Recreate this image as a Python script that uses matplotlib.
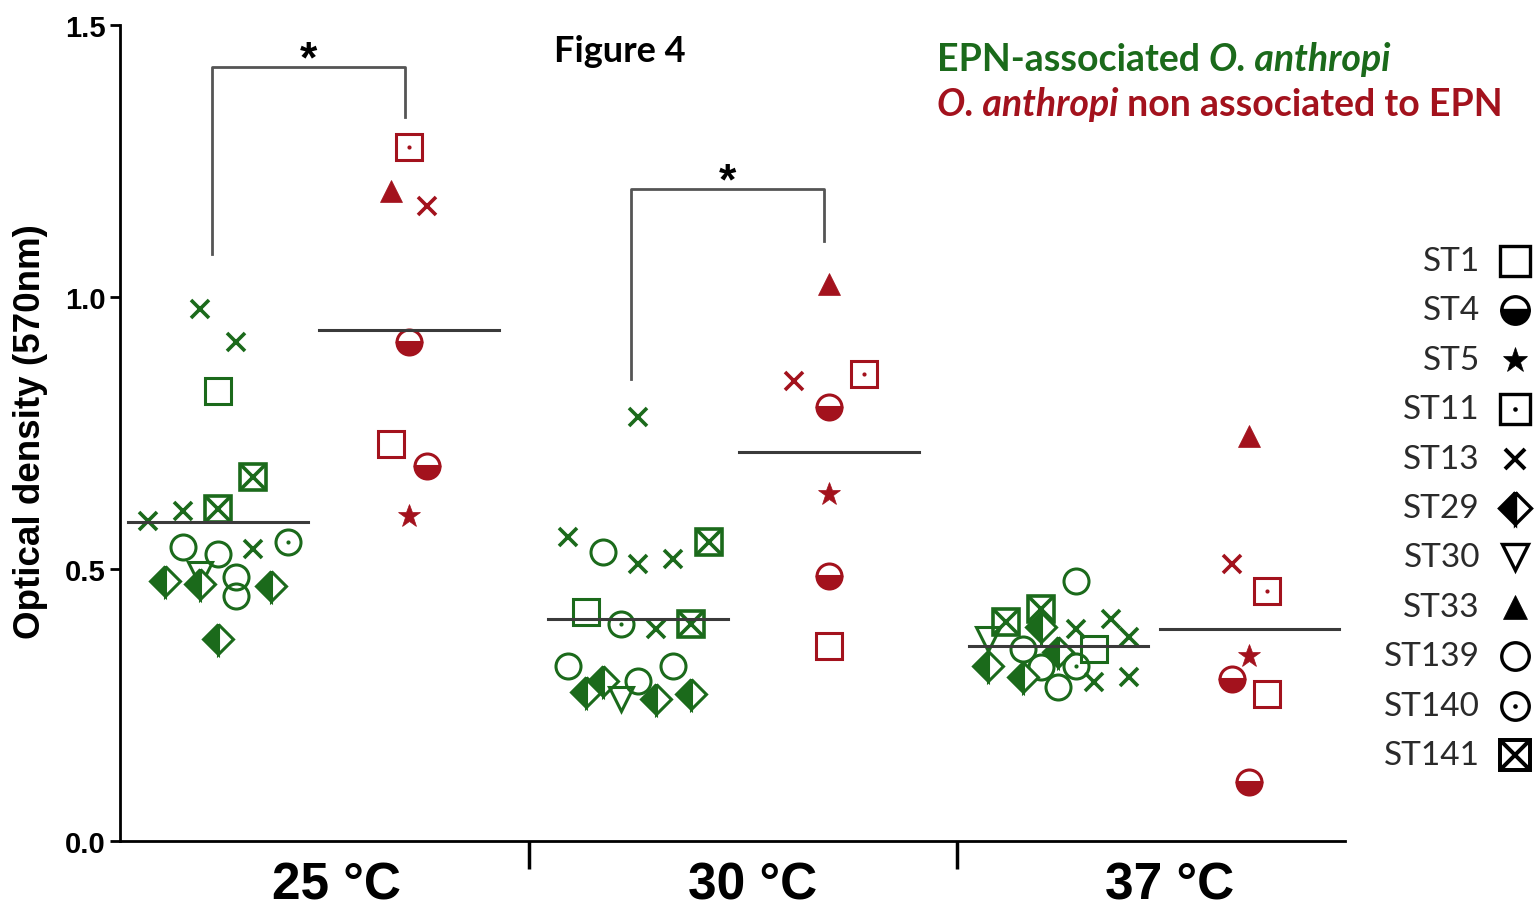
import matplotlib.pyplot as plt
from matplotlib.transforms import blended_transform_factory

green = '#1b6a1b'
red = '#a3121d'

st_names = ['ST1', 'ST4', 'ST5', 'ST11', 'ST13', 'ST29', 'ST30', 'ST33', 'ST139', 'ST140', 'ST141']

# each group: jitter slot, optical density, sequence type
g25_slot = [-1, 1, 0, 2, 0, -2, -4, -2, 0, 2, 4, -3, -1, -1, 1, 1, 3, 0]
g25_od = [0.978, 0.917, 0.827, 0.669, 0.610, 0.607, 0.588, 0.540, 0.528, 0.537, 0.550,
          0.478, 0.490, 0.472, 0.485, 0.450, 0.469, 0.371]
g25_st = ['ST13', 'ST13', 'ST1', 'ST141', 'ST141', 'ST13', 'ST13', 'ST139', 'ST139', 'ST13', 'ST140',
          'ST29', 'ST30', 'ST29', 'ST139', 'ST139', 'ST29', 'ST29']

r25_slot = [0, -1, 1, 0, -1, 1, 0]
r25_od = [1.276, 1.195, 1.167, 0.917, 0.730, 0.689, 0.597]
r25_st = ['ST11', 'ST33', 'ST13', 'ST4', 'ST1', 'ST4', 'ST5']

g30_slot = [0, -4, -2, 0, 2, 4, -3, -1, 1, 3, -4, 2, 0, -3, -2, -1, 1, 3]
g30_od = [0.779, 0.559, 0.531, 0.509, 0.518, 0.550, 0.421, 0.399, 0.390, 0.399, 0.322, 0.322,
          0.294, 0.274, 0.294, 0.261, 0.261, 0.270]
g30_st = ['ST13', 'ST13', 'ST139', 'ST13', 'ST13', 'ST141', 'ST1', 'ST140', 'ST13', 'ST141', 'ST139',
          'ST139', 'ST139', 'ST29', 'ST29', 'ST30', 'ST29', 'ST29']

r30_slot = [0, -2, 2, 0, 0, 0, 0]
r30_od = [1.024, 0.846, 0.858, 0.798, 0.638, 0.487, 0.358]
r30_st = ['ST33', 'ST13', 'ST11', 'ST4', 'ST5', 'ST4', 'ST1']

g37_slot = [1, -3, -1, -1, 1, 3, 4, -4, -2, 0, 2, -4, -1, 1, -2, 2, 4, 0]
g37_od = [0.478, 0.403, 0.426, 0.393, 0.390, 0.408, 0.375, 0.371, 0.353, 0.347, 0.353, 0.322,
          0.320, 0.322, 0.301, 0.292, 0.301, 0.283]
g37_st = ['ST139', 'ST141', 'ST141', 'ST29', 'ST13', 'ST13', 'ST13', 'ST30', 'ST139', 'ST29', 'ST1',
          'ST29', 'ST139', 'ST140', 'ST29', 'ST13', 'ST13', 'ST139']

r37_slot = [0, -1, 1, 0, -1, 1, 0]
r37_od = [0.745, 0.509, 0.460, 0.340, 0.298, 0.270, 0.108]
r37_st = ['ST33', 'ST13', 'ST11', 'ST5', 'ST4', 'ST1', 'ST4']

temps = ['25 °C', '30 °C', '37 °C']
group_x = [0, 1, 2.2, 3.2, 4.4, 5.4]
slot_w = 0.092


def put(a, x, y, st, c, k=1.0):
    kw = dict(linestyle='none', color=c, mec=c, zorder=3, clip_on=False)
    if st == 'ST1':
        a.plot(x, y, 's', ms=19 * k, mfc='none', mew=2.2 * k, **kw)
    elif st == 'ST4':
        a.plot(x, y, 'o', ms=18 * k, fillstyle='bottom', mfc=c, markerfacecoloralt='white', mew=2.2 * k, **kw)
    elif st == 'ST5':
        a.plot(x, y, '*', ms=17 * k, mfc=c, mew=0.5, **kw)
    elif st == 'ST11':
        a.plot(x, y, 's', ms=19 * k, mfc='none', mew=2.2 * k, **kw)
        a.plot(x, y, 'o', ms=3 * k, mfc=c, mew=0, **kw)
    elif st == 'ST13':
        a.plot(x, y, 'x', ms=13 * k, mew=2.6 * k, **kw)
    elif st == 'ST29':
        a.plot(x, y, 'D', ms=15 * k, fillstyle='left', mfc=c, markerfacecoloralt='white', mew=2.2 * k, **kw)
    elif st == 'ST30':
        a.plot(x, y, 'v', ms=17 * k, mfc='none', mew=2.2 * k, **kw)
    elif st == 'ST33':
        a.plot(x, y, '^', ms=16 * k, mfc=c, mew=0.5, **kw)
    elif st == 'ST139':
        a.plot(x, y, 'o', ms=18 * k, mfc='none', mew=2.2 * k, **kw)
    elif st == 'ST140':
        a.plot(x, y, 'o', ms=18 * k, mfc='none', mew=2.2 * k, **kw)
        a.plot(x, y, 'o', ms=3 * k, mfc=c, mew=0, **kw)
    elif st == 'ST141':
        a.plot(x, y, 's', ms=19 * k, mfc='none', mew=2.6 * k, **kw)
        a.plot(x, y, 'x', ms=17 * k, mew=2.6 * k, **kw)


fig = plt.figure(figsize=(15.38, 9.12), dpi=100)
ax = fig.add_axes([120 / 1538, 70 / 912, 1225 / 1538, 816 / 912])
ax.set_xlim(-0.513, 5.90)
ax.set_ylim(0, 1.5)

groups = [(g25_slot, g25_od, g25_st, green), (r25_slot, r25_od, r25_st, red),
          (g30_slot, g30_od, g30_st, green), (r30_slot, r30_od, r30_st, red),
          (g37_slot, g37_od, g37_st, green), (r37_slot, r37_od, r37_st, red)]

for gx, (slots, ods, sts, col) in zip(group_x, groups):
    for s, v, st in zip(slots, ods, sts):
        put(ax, gx + s * slot_w, v, st, col)
    m = sum(ods) / len(ods)
    ax.plot([gx - 0.47, gx + 0.47], [m, m], color='#3a3a3a', lw=2.2, zorder=5)

# significance brackets
for x0, x1, yl, ytop, yr in [(-0.03, 0.98, 1.079, 1.423, 1.331), (2.16, 3.17, 0.849, 1.199, 1.103)]:
    ax.plot([x0, x0, x1, x1], [yl, ytop, ytop, yr], color='#555555', lw=2, clip_on=False)
    ax.text((x0 + x1) / 2, ytop + 0.012, '*', ha='center', va='center', fontsize=32,
            fontweight='bold', family='Liberation Sans')

for sp in ['top', 'right']:
    ax.spines[sp].set_visible(False)
for sp in ['left', 'bottom']:
    ax.spines[sp].set_linewidth(2)

ax.set_yticks([0, 0.5, 1.0, 1.5])
ax.set_yticklabels(['0.0', '0.5', '1.0', '1.5'], fontsize=21, fontweight='bold', family='Liberation Sans')
ax.tick_params(axis='y', length=7, width=2, pad=3)
ax.set_xticks([1.63, 3.87])
ax.set_xticklabels([])
ax.tick_params(axis='x', length=20, width=2.5)

tr = blended_transform_factory(ax.transData, ax.transAxes)
for lx, lab in zip([0.62, 2.80, 4.98], temps):
    ax.text(lx, -0.071, lab, transform=tr, ha='center', va='baseline', fontsize=37,
            fontweight='bold', family='Liberation Sans')

# overlay in pixel units for the free-standing texts and key
lax = fig.add_axes([0, 0, 1, 1])
lax.set_xlim(0, 1538)
lax.set_ylim(912, 0)
lax.axis('off')
lax.patch.set_visible(False)

lax.text(31, 432, 'Optical density (570nm)', rotation=90, ha='center', va='center',
         fontsize=26.5, fontweight='bold', family='Liberation Sans')
lax.text(620, 52, 'Figure 4', ha='center', va='center', fontsize=26, fontweight='bold', family='Lato')

t1 = lax.text(937, 60, 'EPN-associated ', color=green, fontsize=27, fontweight='bold',
              family='Lato', va='center')
lax.annotate('O. anthropi', xy=(1, 0), xycoords=t1, va='bottom', ha='left', color=green,
             fontsize=27, fontweight='bold', style='italic', family='Lato')
t2 = lax.text(937, 105, 'O. anthropi', color=red, fontsize=27, fontweight='bold', style='italic',
              family='Lato', va='center')
lax.annotate(' non associated to EPN', xy=(1, 0), xycoords=t2, va='bottom', ha='left', color=red,
             fontsize=27, fontweight='bold', family='Lato')

for i, st in enumerate(st_names):
    yy = 262 + i * 49.4
    lax.text(1480, yy, st, ha='right', va='center', fontsize=24, family='Lato', color='#2a2a2a')
    put(lax, 1515, yy, st, 'black', k=1.1)

fig.savefig('out.png', dpi=100)
